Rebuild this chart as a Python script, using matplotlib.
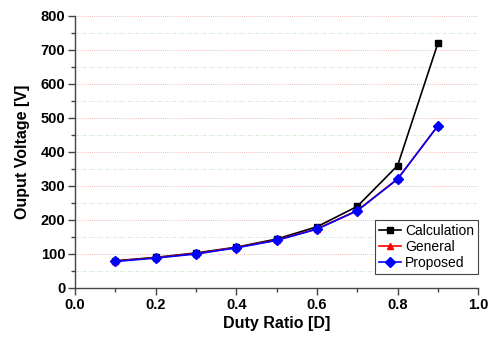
import matplotlib.pyplot as plt
from matplotlib.ticker import MultipleLocator

plt.rcParams['font.family'] = ['Liberation Sans', 'DejaVu Sans']

duty = [0.1, 0.2, 0.3, 0.4, 0.5, 0.6, 0.7, 0.8, 0.9]
calculation = [80, 90, 103, 120, 144, 180, 240, 360, 720]
general = [79, 89, 101, 119, 141, 174, 228, 321, 477]
proposed = [78, 88, 100, 118, 140, 173, 227, 320, 477]

fig = plt.figure(figsize=(4.88, 3.38), dpi=100)
ax = fig.add_axes([0.154, 0.148, 0.826, 0.805])

ax.plot(duty, calculation, color='black', marker='s', markersize=5, linewidth=1.2, label='Calculation')
ax.plot(duty, general, color='red', marker='^', markersize=5, linewidth=1.2, label='General')
ax.plot(duty, proposed, color='blue', marker='D', markersize=5.5, linewidth=1.2, label='Proposed')

ax.set_xlim(0, 1.0)
ax.set_ylim(0, 800)
ax.xaxis.set_major_locator(MultipleLocator(0.2))
ax.xaxis.set_minor_locator(MultipleLocator(0.1))
ax.yaxis.set_major_locator(MultipleLocator(100))
ax.yaxis.set_minor_locator(MultipleLocator(50))

ax.xaxis.grid(False, which='both')
ax.yaxis.grid(True, which='major', color='#f0a8a8', linestyle=(0, (1, 1.5)), linewidth=0.6)
ax.yaxis.grid(True, which='minor', color='#cdeccd', linestyle=(0, (4, 2, 1, 2)), linewidth=0.6)
ax.set_axisbelow(True)

for s in ['top', 'right']:
    ax.spines[s].set_visible(False)
for s in ['left', 'bottom']:
    ax.spines[s].set_color('#444444')
    ax.spines[s].set_linewidth(1.0)

ax.tick_params(which='major', length=5, width=1, color='#444444', pad=2)
ax.tick_params(which='minor', length=3, width=1, color='#444444')
for lbl in ax.get_xticklabels() + ax.get_yticklabels():
    lbl.set_fontweight('bold')
    lbl.set_fontsize(10.5)
ax.xaxis.set_major_formatter(lambda v, p: f'{v:.1f}')

ax.set_xlabel('Duty Ratio [D]', fontsize=11.5, fontweight='bold', labelpad=3)
ax.set_ylabel('Ouput Voltage [V]', fontsize=11.5, fontweight='bold', labelpad=8)

leg = ax.legend(loc='lower right', bbox_to_anchor=(1.0, 0.05), fontsize=10,
                fancybox=False, edgecolor='#444444', framealpha=1, borderaxespad=0,
                handlelength=1.6, handletextpad=0.3, borderpad=0.3, labelspacing=0.15)
leg.get_frame().set_linewidth(0.8)

fig.savefig('out.png', dpi=100)
